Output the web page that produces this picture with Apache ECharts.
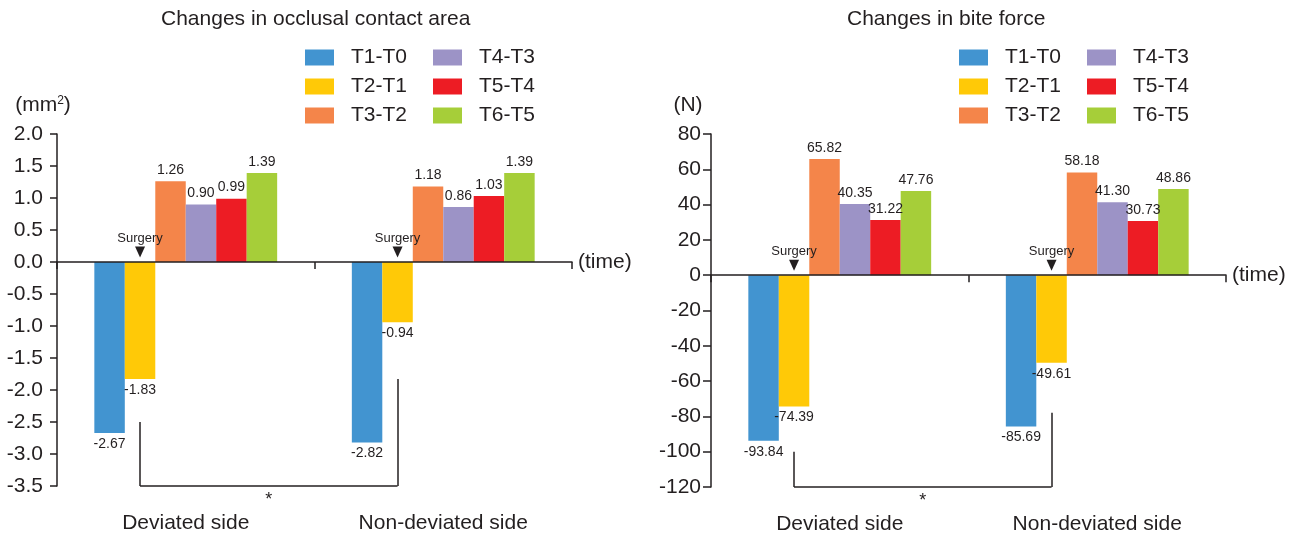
<!DOCTYPE html>
<html>
<head>
<meta charset="utf-8">
<title>Changes in occlusal contact area and bite force</title>
<script src="https://cdn.jsdelivr.net/npm/echarts@6/dist/echarts.min.js"></script>
<style>
  html, body { margin: 0; padding: 0; background: #fff; }
  #main { width: 1295px; height: 537px; }
</style>
</head>
<body>
<div id="main"></div>
<script>
// categories and periods
var sides = ['Deviated side', 'Non-deviated side'];
var periods = ['T1-T0', 'T2-T1', 'T3-T2', 'T4-T3', 'T5-T4', 'T6-T5'];
var colors = ['#4294d0', '#ffc907', '#f4854a', '#9c93c6', '#ed1c24', '#a6ce39'];

// occlusal contact area change (mm2), one value per period
var areaDeviated = [-2.67, -1.83, 1.26, 0.90, 0.99, 1.39];
var areaNonDeviated = [-2.82, -0.94, 1.18, 0.86, 1.03, 1.39];

// bite force change (N), one value per period
var forceDeviated = [-93.84, -74.39, 65.82, 40.35, 31.22, 47.76];
var forceNonDeviated = [-85.69, -49.61, 58.18, 41.30, 30.73, 48.86];

// significance bracket ends: [deviated top, bottom, non-deviated top]
var areaBracket = [-2.5, -3.5, -1.83];
var forceBracket = [-100, -120, -78];

var ink = '#231f20';
var font = 'Liberation Sans, Arial, Helvetica, sans-serif';

var myChart = echarts.init(document.getElementById('main'));

function makeSeries(g, dev, nondev, bracket) {
  var out = [];
  for (var i = 0; i < periods.length; i++) {
    var vals = [dev[i], nondev[i]];
    var s = {
      name: periods[i],
      type: 'bar',
      xAxisIndex: g * 2,
      yAxisIndex: g,
      barGap: '0%',
      barCategoryGap: '29%',
      itemStyle: { color: colors[i] },
      label: {
        show: true, position: 'top', distance: 4,
        fontFamily: font, fontSize: 14, color: ink,
        formatter: function (p) { return p.value.toFixed(2); }
      },
      data: vals.map(function (v) {
        return v < 0 ? { value: v, label: { position: 'bottom' } } : { value: v };
      })
    };
    if (i == 1) {
      // surgery happens during T2-T1
      s.markPoint = {
        symbol: 'triangle',
        symbolSize: [10, 11],
        symbolRotate: 180,
        symbolOffset: [0, -10],
        itemStyle: { color: ink },
        label: {
          show: true, position: 'top', distance: 2, formatter: 'Surgery',
          fontFamily: font, fontSize: 13, color: ink
        },
        data: [{ coord: [sides[0], 0] }, { coord: [sides[1], 0] }]
      };
      s.markLine = {
        symbol: ['none', 'none'],
        silent: true,
        lineStyle: { color: ink, width: 1.5, type: 'solid' },
        label: { show: false },
        emphasis: { disabled: true },
        data: [
          [{ coord: [sides[0], bracket[0]] }, { coord: [sides[0], bracket[1]] }],
          [{ coord: [sides[0], bracket[1]],
             label: { show: true, formatter: '*', position: 'insideMiddleBottom', distance: 5,
                      fontFamily: font, fontSize: 18, color: ink } },
           { coord: [sides[1], bracket[1]] }],
          [{ coord: [sides[1], bracket[1]] }, { coord: [sides[1], bracket[2]] }]
        ]
      };
    }
    out.push(s);
  }
  return out;
}

function labelAxis(g) {
  return {
    type: 'category', gridIndex: g, data: sides, position: 'bottom',
    axisLine: { show: false, onZero: false },
    axisTick: { show: false },
    axisLabel: { margin: 27, fontFamily: font, fontSize: 21, color: ink }
  };
}

function zeroAxis(g) {
  return {
    type: 'category', gridIndex: g, data: sides, position: 'bottom', z: 5,
    name: '(time)', nameLocation: 'end', nameGap: 6,
    nameTextStyle: { fontFamily: font, fontSize: 21, color: ink, padding: [12, 0, 0, 0] },
    axisLine: { onZero: true, lineStyle: { color: ink, width: 1.5 } },
    axisTick: { show: true, interval: 0, length: 7, lineStyle: { color: ink, width: 1.5 } },
    axisLabel: { show: false }
  };
}

function legendCol(left, names) {
  return {
    orient: 'vertical', left: left, top: 47, padding: 0,
    itemWidth: 29, itemHeight: 16, itemGap: 8,
    icon: 'rect', selectedMode: false,
    textStyle: { fontFamily: font, fontSize: 21, color: ink, lineHeight: 16, padding: [0, 0, 0, 12] },
    data: names
  };
}

var option = {
  animation: false,
  backgroundColor: '#fff',
  title: [
    { text: 'Changes in occlusal contact area', left: 161, top: 9, padding: 0,
      textStyle: { fontFamily: font, fontSize: 21, fontWeight: 'normal', color: ink } },
    { text: 'Changes in bite force', left: 847, top: 9, padding: 0,
      textStyle: { fontFamily: font, fontSize: 21, fontWeight: 'normal', color: ink } }
  ],
  legend: [
    legendCol(305, periods.slice(0, 3)),
    legendCol(433, periods.slice(3)),
    legendCol(959, periods.slice(0, 3)),
    legendCol(1087, periods.slice(3))
  ],
  grid: [
    { left: 57, right: 723, top: 134, bottom: 51 },
    { left: 711, right: 69, top: 134, bottom: 50 }
  ],
  xAxis: [labelAxis(0), zeroAxis(0), labelAxis(1), zeroAxis(1)],
  yAxis: [
    {
      type: 'value', gridIndex: 0, min: -3.5, max: 2, interval: 0.5,
      name: '(mm{sup|2})', nameLocation: 'end', nameGap: 18,
      nameTextStyle: {
        fontFamily: font, fontSize: 21, color: ink, align: 'center', padding: [0, 28, 0, 0],
        rich: { sup: { fontFamily: font, fontSize: 12, color: ink, verticalAlign: 'top' } }
      },
      axisLine: { show: true, lineStyle: { color: ink, width: 1.5 } },
      axisTick: { show: true, length: 7, lineStyle: { color: ink, width: 1.5 } },
      axisLabel: { margin: 14, fontFamily: font, fontSize: 21, color: ink,
        formatter: function (v) { return v.toFixed(1); } },
      splitLine: { show: false }
    },
    {
      type: 'value', gridIndex: 1, min: -120, max: 80, interval: 20,
      name: '(N)', nameLocation: 'end', nameGap: 18,
      nameTextStyle: { fontFamily: font, fontSize: 21, color: ink, align: 'center', padding: [0, 46, 0, 0] },
      axisLine: { show: true, lineStyle: { color: ink, width: 1.5 } },
      axisTick: { show: true, length: 8, lineStyle: { color: ink, width: 1.5 } },
      axisLabel: { margin: 10, fontFamily: font, fontSize: 21, color: ink },
      splitLine: { show: false }
    }
  ],
  series: makeSeries(0, areaDeviated, areaNonDeviated, areaBracket)
    .concat(makeSeries(1, forceDeviated, forceNonDeviated, forceBracket))
};

myChart.setOption(option);
</script>
</body>
</html>
